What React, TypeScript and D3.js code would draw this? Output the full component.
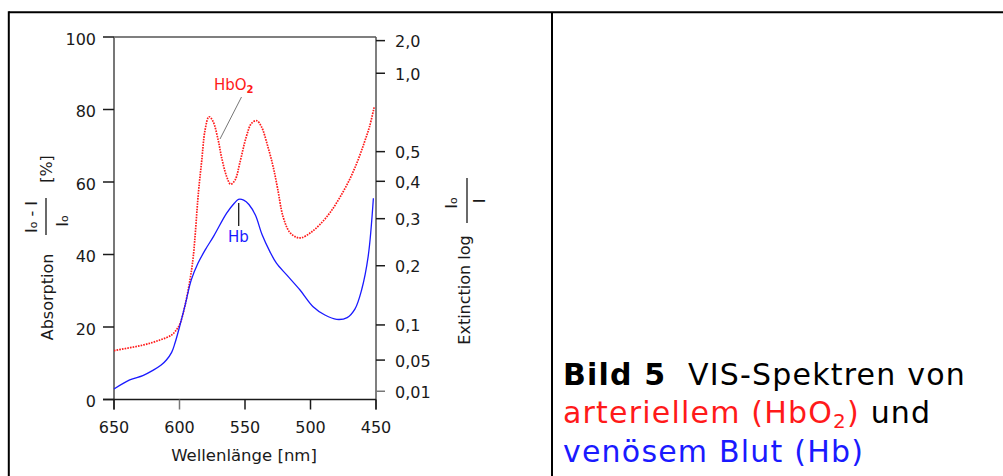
import React from "react";
import * as d3 from "d3";

// Wavelength [nm] and absorption [%]
const hbNm = [650, 638, 628, 620, 614, 610, 606, 603.5, 600, 596, 591, 586, 580, 574, 564, 558, 555, 551, 547, 542, 537, 531, 526, 518, 508, 498, 489, 480, 472, 466, 461, 456, 452];
const hbVal = [2.9, 5.4, 6.6, 8.1, 9.5, 10.9, 13, 15.5, 20, 25.6, 33, 37.5, 41.5, 45, 51.4, 54.2, 55.2, 55.0, 53.8, 50.8, 45.5, 40.8, 37.6, 34.3, 30.2, 25.6, 23.3, 22.1, 22.6, 25.0, 30.2, 39.4, 55.5];

const hbo2Nm = [650, 628, 615, 606, 602, 599.5, 596, 592, 589.5, 585.6, 583, 580.5, 577.5, 574.5, 570.5, 568, 564, 561, 557.5, 554, 549, 545, 541, 537.5, 532.5, 528.5, 525, 521, 516, 511, 507, 500, 493, 485, 477.5, 470, 464, 459, 455, 451.3];
const hbo2Val = [13.5, 15, 16.4, 17.8, 19.4, 21, 25.6, 33, 39.4, 56.9, 66, 74.3, 78, 76.8, 71.6, 67, 61.5, 59.4, 60.6, 65.2, 72.5, 76.2, 76.9, 75.3, 69.7, 64.2, 58, 50.5, 46.2, 44.8, 44.6, 46.0, 48.2, 51.6, 55.8, 60.8, 65.8, 70.8, 75.2, 80.8];

const xTicks = [650, 600, 550, 500, 450];
const yTicks = [0, 20, 40, 60, 80, 100];
const extTicks = [2.0, 1.0, 0.5, 0.4, 0.3, 0.2, 0.1, 0.05, 0.01];
const extLabels = ["2,0", "1,0", "0,5", "0,4", "0,3", "0,2", "0,1", "0,05", "0,01"];

const RED = "#ff1a1a";
const BLUE = "#1a1aff";
const INK = "#1a1a1a";
const AX = "#555";
const tickFont: React.CSSProperties = { fontFamily: "'DejaVu Sans', Verdana, sans-serif" };

export default function App() {
  const x = d3.scaleLinear().domain([650, 450]).range([114, 376]);
  const y = d3.scaleLinear().domain([0, 100]).range([399.5, 37]);
  const yE = (e: number) => y(100 * (1 - Math.pow(10, -e)));

  const line = d3
    .line<[number, number]>()
    .x((d) => x(d[0]))
    .y((d) => y(d[1]))
    .curve(d3.curveCatmullRom.alpha(0.5));

  const hb = line(hbNm.map((n, i) => [n, hbVal[i]] as [number, number])) || "";
  const hbo2 = line(hbo2Nm.map((n, i) => [n, hbo2Val[i]] as [number, number])) || "";

  const x0 = x(650);
  const x1 = x(450);
  const yTop = y(100);
  const yBot = y(0);

  return (
    <svg
      width={1003}
      height={476}
      style={{ position: "absolute", left: 0, top: 0, display: "block", background: "#fff" }}
    >
      {/* outer frame */}
      <line x1={8.8} y1={12.3} x2={1003} y2={12.3} stroke="#000" strokeWidth={2} />
      <line x1={8.8} y1={11.3} x2={8.8} y2={476} stroke="#000" strokeWidth={2} />
      <line x1={552} y1={12.3} x2={552} y2={476} stroke="#000" strokeWidth={2} />

      {/* plot frame */}
      <line x1={x0} y1={yTop} x2={x1} y2={yTop} stroke={AX} strokeWidth={1.5} />
      <line x1={x0} y1={yTop} x2={x0} y2={yBot + 10} stroke="#777" strokeWidth={2} />
      <line x1={x1} y1={yTop} x2={x1} y2={yBot + 10} stroke={AX} strokeWidth={1.5} />
      <line x1={x0 - 11} y1={yBot} x2={x1} y2={yBot} stroke={INK} strokeWidth={1.5} />

      {/* left ticks */}
      {yTicks.map((v) => (
        <g key={"l" + v}>
          <line x1={x0 - 11} y1={y(v)} x2={x0} y2={y(v)} stroke={INK} strokeWidth={1.5} />
          <text x={96} y={y(v) + 2} textAnchor="end" dominantBaseline="central" fontSize={16} fill={INK} style={tickFont}>
            {v}
          </text>
        </g>
      ))}

      {/* bottom ticks */}
      {xTicks.map((v) => (
        <g key={"b" + v}>
          <line x1={x(v)} y1={yBot} x2={x(v)} y2={yBot + 10} stroke={v === 600 ? "#777" : INK} strokeWidth={1.5} />
          <text x={x(v)} y={433} textAnchor="middle" fontSize={16} fill={INK} style={tickFont}>
            {v}
          </text>
        </g>
      ))}
      <text x={244} y={461} textAnchor="middle" fontSize={16.5} fill={INK} style={tickFont}>
        Wellenlänge [nm]
      </text>

      {/* right ticks */}
      {extTicks.map((e, i) => (
        <g key={"r" + e}>
          <line x1={x1} y1={yE(e)} x2={x1 + 9} y2={yE(e)} stroke={e === 0.01 ? "#777" : INK} strokeWidth={1.5} />
          <text x={395} y={yE(e) + 1} dominantBaseline="central" fontSize={16} fill={INK} style={tickFont}>
            {extLabels[i]}
          </text>
        </g>
      ))}

      {/* curves */}
      <path d={hbo2} fill="none" stroke={RED} strokeWidth={1.7} strokeDasharray="1.6 1.1" />
      <path d={hb} fill="none" stroke={BLUE} strokeWidth={1.3} />

      {/* curve labels */}
      <line x1={241.5} y1={97} x2={220} y2={139} stroke="#666" strokeWidth={0.9} />
      <text x={214} y={90} fontSize={15} fill={RED} style={tickFont}>
        HbO<tspan fontSize={10} dy={3} fontWeight="bold">2</tspan>
      </text>
      <line x1={238.7} y1={203} x2={238.7} y2={226} stroke={INK} strokeWidth={1.3} />
      <text x={228} y={242} fontSize={15} fill={BLUE} style={tickFont}>
        Hb
      </text>

      {/* left axis title */}
      <g fill={INK} fontSize={16} style={tickFont}>
        <text transform="translate(47,297) rotate(-90)" textAnchor="middle" dominantBaseline="central">
          Absorption
        </text>
        <text transform="translate(31,217) rotate(-90)" textAnchor="middle" dominantBaseline="central">
          I<tspan fontSize={11} dy={2}>o</tspan>
          <tspan dy={-2}> - I</tspan>
        </text>
        <line x1={46} y1={198} x2={46} y2={235} stroke={INK} strokeWidth={1.3} />
        <text transform="translate(62,221) rotate(-90)" textAnchor="middle" dominantBaseline="central">
          I<tspan fontSize={11} dy={2}>o</tspan>
        </text>
        <text transform="translate(46,169) rotate(-90)" textAnchor="middle" dominantBaseline="central">
          [%]
        </text>
      </g>

      {/* right axis title */}
      <g fill={INK} fontSize={16} style={tickFont}>
        <text transform="translate(464,290) rotate(-90)" textAnchor="middle" dominantBaseline="central">
          Extinction log
        </text>
        <text transform="translate(451,203) rotate(-90)" textAnchor="middle" dominantBaseline="central">
          I<tspan fontSize={11} dy={2}>o</tspan>
        </text>
        <line x1={467} y1={178} x2={467} y2={223} stroke={INK} strokeWidth={1.3} />
        <text transform="translate(479,201) rotate(-90)" textAnchor="middle" dominantBaseline="central">
          I
        </text>
      </g>

      {/* caption */}
      <g fontFamily="'DejaVu Sans', Verdana, sans-serif" fontSize={30} letterSpacing={1.2}>
        <text x={563} y={385} fill="#000">
          <tspan fontWeight="bold">Bild 5</tspan>
          <tspan x={688}>VIS-Spektren von</tspan>
        </text>
        <text x={563} y={423} fill={RED}>
          arteriellem (HbO<tspan fontSize={20} dy={5}>2</tspan>
          <tspan dy={-5}>)</tspan>
          <tspan fill="#000"> und</tspan>
        </text>
        <text x={563} y={462} fill={BLUE}>
          venösem Blut (Hb)
        </text>
      </g>
    </svg>
  );
}
